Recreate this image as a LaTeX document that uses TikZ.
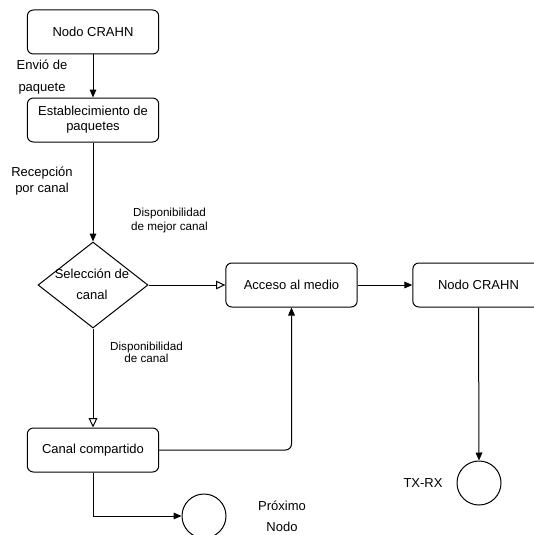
\documentclass[tikz,border=0pt]{standalone}
\usepackage{fontspec}
\setmainfont{Liberation Sans}
\usetikzlibrary{arrows.meta,shapes.geometric}
\begin{document}
\begin{tikzpicture}[x=0.75pt,y=-0.75pt,
  line width=0.75pt,
  procbox/.style={draw, rounded corners=4.5pt, minimum width=98.5pt, minimum height=33pt, inner sep=1pt, align=center, font=\fontsize{9.75}{11.25}\selectfont},
  lbl/.style={inner sep=0pt, align=center},
  endcircle/.style={draw, circle, minimum size=33pt, inner sep=0pt},
  filled/.style={-{Triangle[length=6pt,width=5pt]}},
  hollow/.style={-{Triangle[open,length=7pt,width=6.5pt,fill=white]}}
]
\useasboundingbox (0,0) rectangle (534,535);
\clip (0,0) rectangle (534,535);

\node[procbox] (n1) at (93,32) {Nodo CRAHN};
\node[procbox] (est) at (93,120) {Establecimiento de\\paquetes};
\node[draw, diamond, minimum width=82.5pt, minimum height=64.5pt, inner sep=0pt] (sel) at (93,285) {};
\node[lbl, font=\fontsize{9.75}{15.75}\selectfont] (selt) at (92,284) {Selección de\\canal};
\node[procbox] (acc) at (291.5,285) {Acceso al medio};
\node[procbox] (n2) at (478.5,285) {Nodo CRAHN};
\node[procbox] (can) at (93,450) {Canal compartido};
\node[endcircle] (prox) at (204,516) {};
\node[endcircle] (txrx) at (479,483) {};

\node[lbl, font=\fontsize{9.75}{16.5}\selectfont] (l1) at (42,77) {Envió de\\paquete};
\node[lbl, font=\fontsize{9.75}{12}\selectfont] (l2) at (42,181) {Recepción\\por canal};
\node[lbl, font=\fontsize{8.75}{10.5}\selectfont] (l3) at (169.5,220) {Disponibilidad\\de mejor canal};
\node[lbl, font=\fontsize{8.75}{9}\selectfont] (l4) at (146.5,352) {Disponibilidad\\de canal};
\node[lbl, font=\fontsize{9.75}{15.75}\selectfont] (l5) at (282,516.5) {Próximo\\Nodo};
\node[lbl, font=\fontsize{9.75}{11}\selectfont] (l6) at (423,483) {TX-RX};

\draw[filled] (n1) -- (est);
\draw[filled] (est) -- (sel.north);
\draw[hollow] (sel.east) -- (acc.west);
\draw[hollow] (sel.south) -- (can.north);
\draw[filled] (acc) -- (n2);
\draw[filled] (n2.south) -- (txrx.north);
\draw[filled, rounded corners=4.5pt] (can.east) -| (acc.south);
\draw[filled] (can.south) |- (prox.west);
\end{tikzpicture}
\end{document}
